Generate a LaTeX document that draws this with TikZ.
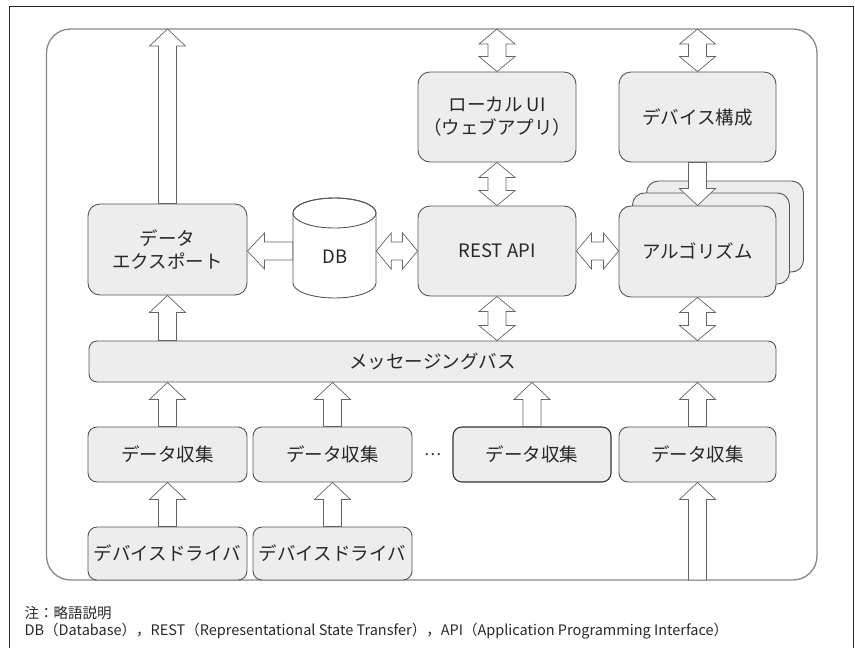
\documentclass[tikz,border=0pt]{standalone}
\usepackage{fontspec}
\setmainfont{Noto Sans CJK JP}
\usetikzlibrary{calc}
\definecolor{boxfill}{RGB}{236,237,236}
\definecolor{boxline}{RGB}{85,85,85}
\definecolor{frameline}{RGB}{135,135,135}
\definecolor{arrline}{RGB}{100,100,100}
\definecolor{txt}{RGB}{40,40,40}
\newcommand{\hollowarrow}[2]{%
  \path (#1) coordinate (ht) (#2) coordinate (hp);
  \path ($(hp)!17pt!(ht)$) coordinate (hh);
  \draw[arr] ($(ht)!9pt!90:(hp)$) -- ($(hh)!9pt!90:(hp)$) -- ($(hh)!18pt!90:(hp)$) -- (hp)
    -- ($(hh)!18pt!-90:(hp)$) -- ($(hh)!9pt!-90:(hp)$) -- ($(ht)!9pt!-90:(hp)$) -- cycle;}
\newcommand{\hollowdarrow}[2]{%
  \path (#1) coordinate (dA) (#2) coordinate (dB);
  \path ($(dA)!15pt!(dB)$) coordinate (dHA) ($(dB)!15pt!(dA)$) coordinate (dHB);
  \draw[arr] (dA) -- ($(dHA)!18pt!90:(dB)$) -- ($(dHA)!9pt!90:(dB)$) -- ($(dHB)!9pt!-90:(dA)$)
    -- ($(dHB)!18pt!-90:(dA)$) -- (dB) -- ($(dHB)!18pt!90:(dA)$) -- ($(dHB)!9pt!90:(dA)$)
    -- ($(dHA)!9pt!-90:(dB)$) -- ($(dHA)!18pt!-90:(dB)$) -- cycle;}
\tikzset{
  box/.style={draw=boxline, fill=boxfill, rounded corners=12pt, line width=0.9pt, text=txt,
    font=\fontsize{18.5}{23}\selectfont, align=center, inner sep=0pt},
  smallbox/.style={box, rounded corners=9pt},
  arr/.style={draw=arrline, fill=white, line width=0.7pt, line join=miter},
  notetext/.style={text=txt, font=\fontsize{14.5}{17}\selectfont, anchor=west, inner sep=0pt},
}
\begin{document}
\begin{tikzpicture}[x=1pt,y=-1pt]
\useasboundingbox (0,0) rectangle (855,648);
% outer frame
\draw[line width=1pt, black!85] (9,660) -- (9,6) -- (853,6) -- (853,660);
% inner frame
\draw[frameline, line width=1.3pt, rounded corners=24pt] (46.5,29) rectangle (817,580);
\coordinate (ftop) at (400,29);
\coordinate (fbot) at (400,580);

% algorithm stack (back layers)
\node[box, minimum width=157pt, minimum height=91pt] (algoC) at (725,226.5) {};
\node[box, minimum width=157pt, minimum height=91pt] (algoB) at (711,238.5) {};

% main boxes
\node[box, minimum width=159pt, minimum height=91pt] (export) at (167.5,249.5) {データ\\エクスポート};
\node[box, minimum width=158pt, minimum height=90pt] (ui) at (497,117) {ローカル UI\\（ウェブアプリ）};
\node[box, minimum width=157pt, minimum height=90pt] (cfg) at (697.5,117) {デバイス構成};
\node[box, minimum width=158pt, minimum height=90pt] (rest) at (497,251) {REST API};
\node[box, minimum width=157pt, minimum height=91pt] (algo) at (697.5,251.5) {アルゴリズム};

% DB cylinder
\node[minimum width=83pt, minimum height=100pt, inner sep=0pt] (db) at (334.5,251) {};
\filldraw[draw=boxline, fill=white, line width=0.9pt] (293,213) -- (293,283)
  arc[start angle=180, end angle=360, x radius=41.5pt, y radius=15pt] -- (376,213)
  arc[start angle=0, end angle=180, x radius=41.5pt, y radius=15pt] -- cycle;
\draw[boxline, line width=0.9pt] (334.5,213) ellipse[x radius=41.5pt, y radius=15pt];
\node[text=txt, font=\fontsize{18.5}{23}\selectfont] at (335,257) {DB};

% bus
\node[smallbox, minimum width=687pt, minimum height=41pt, rounded corners=8pt] (bus) at (432.5,361.5) {メッセージングバス};

% data collection
\node[smallbox, minimum width=159pt, minimum height=55pt] (col1) at (167.5,454.5) {データ収集};
\node[smallbox, minimum width=159pt, minimum height=55pt] (col2) at (332.5,454.5) {データ収集};
\node[smallbox, minimum width=158pt, minimum height=55pt, draw=black!80, line width=1.1pt] (col3) at (532,454.5) {データ収集};
\node[smallbox, minimum width=157pt, minimum height=55pt] (col4) at (697.5,454.5) {データ収集};
\node[text=txt, font=\fontsize{16}{20}\selectfont, inner sep=0pt] (dots) at (432.5,455) {…};

% drivers
\node[smallbox, minimum width=159pt, minimum height=53pt] (drv1) at (167.5,553.5) {デバイスドライバ};
\node[smallbox, minimum width=159pt, minimum height=53pt] (drv2) at (332.5,553.5) {デバイスドライバ};

% arrows
\hollowarrow{export.north}{export.north |- ftop}
\hollowdarrow{ui.north |- ftop}{ui.north}
\hollowdarrow{cfg.north |- ftop}{cfg.north}
\hollowdarrow{ui.south}{rest.north}
\hollowarrow{cfg.south}{algo.north}
\hollowarrow{db.west}{export.east |- db.west}
\hollowdarrow{db.east}{rest.west}
\hollowdarrow{rest.east}{algo.west |- rest.east}
\hollowdarrow{rest.south}{rest.south |- bus.north}
\hollowdarrow{algo.south}{algo.south |- bus.north}
\hollowarrow{export.south |- bus.north}{export.south}
\hollowarrow{col1.north}{col1.north |- bus.south}
\hollowarrow{col2.north}{col2.north |- bus.south}
\hollowarrow{col3.north}{col3.north |- bus.south}
\hollowarrow{col4.north}{col4.north |- bus.south}
\hollowarrow{drv1.north}{col1.south}
\hollowarrow{drv2.north}{col2.south}
\hollowarrow{col4.south |- fbot}{col4.south}

% notes
\node[notetext] (n1) at (24.5,613) {注：略語説明};
\node[notetext] (n2) at (24.5,631) {DB（Database），REST（Representational State Transfer），API（Application Programming Interface）};
\end{tikzpicture}
\end{document}
